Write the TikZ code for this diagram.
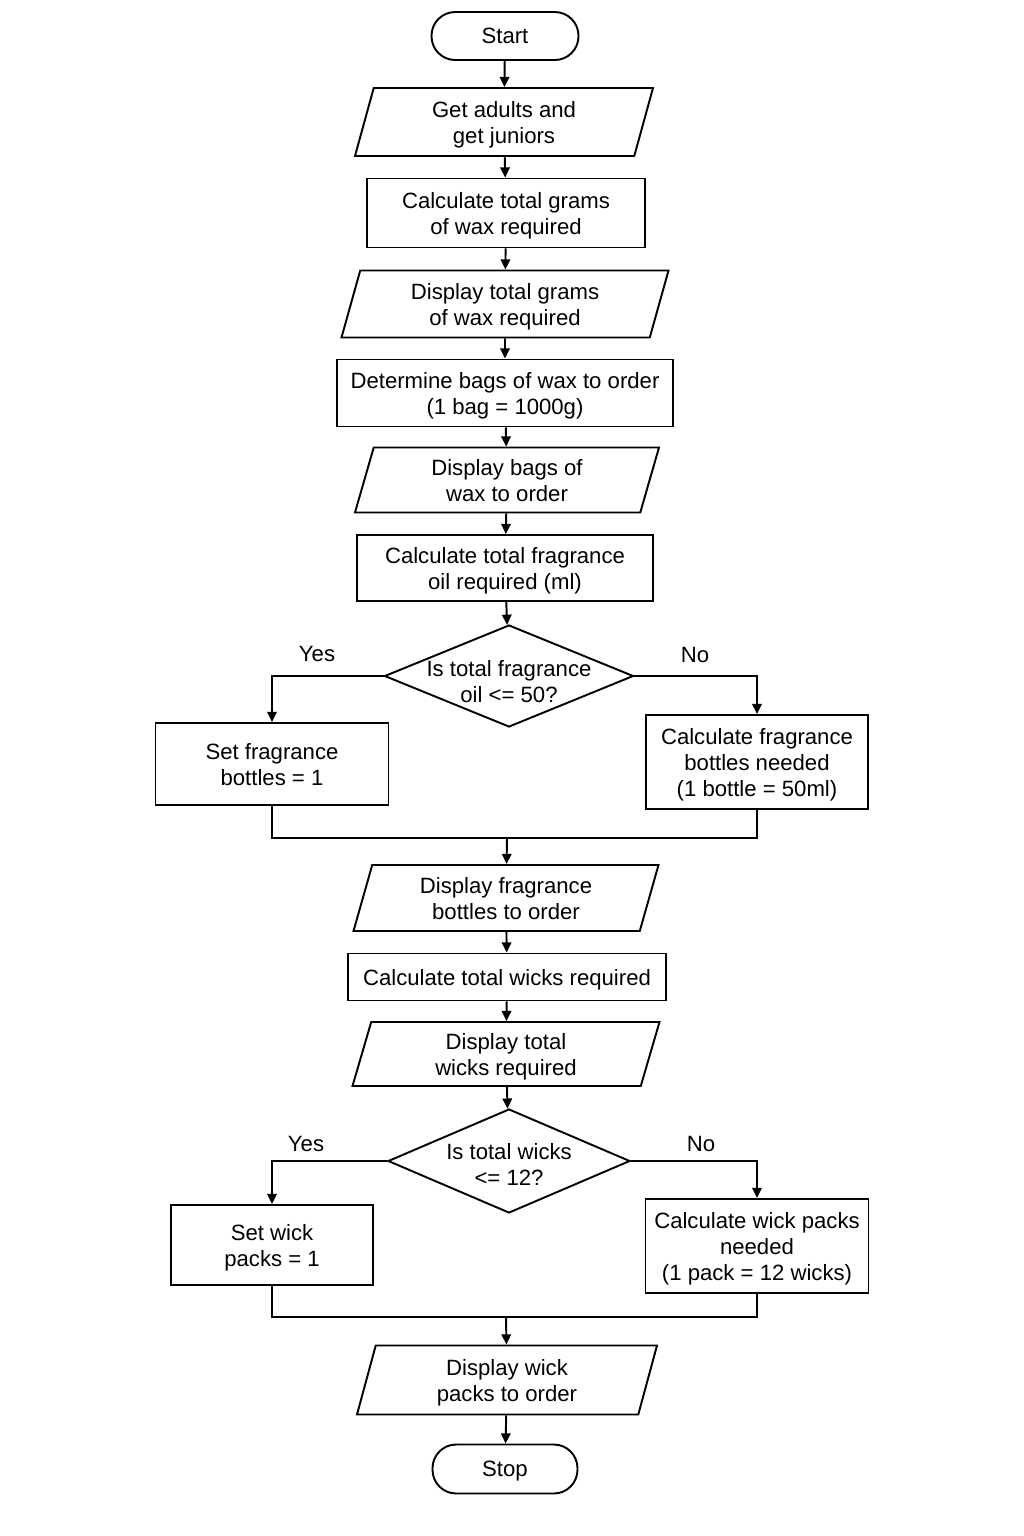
\documentclass[tikz,border=0pt]{standalone}
\usepackage{fontspec}
\setmainfont{Liberation Sans}
\usetikzlibrary{shapes.geometric, arrows.meta}
\newcommand{\flowfont}{\fontsize{12.6}{14.8}\selectfont}

\begin{document}
\begin{tikzpicture}[x=0.02cm, y=-0.02cm,
	base/.style={draw, line width=1.1pt, font=\flowfont, align=center, inner sep=0pt, text depth=0pt},
	wh/.style 2 args={minimum width=#1*0.02cm, minimum height=#2*0.02cm},
	procbox/.style={base, rectangle},
	iobox/.style={base, trapezium, trapezium left angle=66, trapezium right angle=114, trapezium stretches body},
	termbox/.style={base, rectangle, rounded corners=13.5pt},
	decbox/.style={base, diamond, aspect=2.4, inner sep=-5pt},
	line/.style={line width=1.1pt},
	arr/.style={line width=1.1pt, -{Triangle[length=5.8pt, width=5.4pt]}}]
	\useasboundingbox (0,0) rectangle (1024,1536);
	%top part
	\node[termbox, wh={147}{48}] (start) at (505,36) {Start};
	\node[iobox, wh={298}{68}] (getin) at (504,122) {Get adults and\\get juniors};
	\node[procbox, wh={278}{69}] (calcwax) at (506,213) {Calculate total grams\\of wax required};
	\node[iobox, wh={327}{67}] (dispwax) at (505,304) {Display total grams\\of wax required};
	\node[procbox, wh={336}{67}] (detbags) at (505,393) {Determine bags of wax to order\\(1 bag = 1000g)};
	\node[iobox, wh={304}{65}] (dispbags) at (507,480) {Display bags of\\wax to order};
	\node[procbox, wh={296}{66}] (calcoil) at (505,568) {Calculate total fragrance\\oil required (ml)};
	%fragrance decision
	\node[decbox, wh={249}{102}, text height=29.8pt] (decoil) at (509,676) {Is total fragrance\\oil <= 50?};
	\node[procbox, wh={233}{82}] (setbot) at (272,764) {Set fragrance\\bottles = 1};
	\node[procbox, wh={222}{94}] (calcbot) at (757,762) {Calculate fragrance\\bottles needed\\(1 bottle = 50ml)};
	\coordinate (mergebot) at (507,838);
	\node[iobox, wh={305}{66}] (dispbot) at (506,898) {Display fragrance\\bottles to order};
	\node[procbox, wh={318}{47}] (calcwick) at (507,977) {Calculate total wicks required};
	\node[iobox, wh={307}{64}] (dispwick) at (506,1054) {Display total\\wicks required};
	%wick decision
	\node[decbox, wh={242}{104}, text height=27.5pt] (decwick) at (509,1161) {Is total wicks\\<= 12?};
	\node[procbox, wh={202}{80}] (setpack) at (272,1245) {Set wick\\packs = 1};
	\node[procbox, wh={223}{94}] (calcpack) at (757,1246) {Calculate wick packs\\needed\\(1 pack = 12 wicks)};
	\coordinate (mergepack) at (506,1317);
	\node[iobox, wh={300}{69}] (disppack) at (507,1380) {Display wick\\packs to order};
	\node[termbox, wh={145}{49}] (stop) at (505,1469) {Stop};
	% branch labels
	\node[font=\flowfont] (yesoil) at (317,654) {Yes};
	\node[font=\flowfont] (nooil) at (695,655) {No};
	\node[font=\flowfont] (yeswick) at (306,1144) {Yes};
	\node[font=\flowfont] (nowick) at (701,1144) {No};
	%making arrows
	\draw[arr] (start) -- (getin);
	\draw[arr] (getin) -- (calcwax);
	\draw[arr] (calcwax) -- (dispwax);
	\draw[arr] (dispwax) -- (detbags);
	\draw[arr] (detbags) -- (dispbags);
	\draw[arr] (dispbags) -- (calcoil);
	\draw[arr] (calcoil) -- (decoil);
	\draw[arr] (decoil.west) -| (setbot.north);
	\draw[arr] (decoil.east) -| (calcbot.north);
	\draw[line] (setbot.south) |- (mergebot) -| (calcbot.south);
	\draw[arr] (mergebot) -- (dispbot);
	\draw[arr] (dispbot) -- (calcwick);
	\draw[arr] (calcwick) -- (dispwick);
	\draw[arr] (dispwick) -- (decwick);
	\draw[arr] (decwick.west) -| (setpack.north);
	\draw[arr] (decwick.east) -| (calcpack.north);
	\draw[line] (setpack.south) |- (mergepack) -| (calcpack.south);
	\draw[arr] (mergepack) -- (disppack);
	\draw[arr] (disppack) -- (stop);
\end{tikzpicture}
\end{document}
